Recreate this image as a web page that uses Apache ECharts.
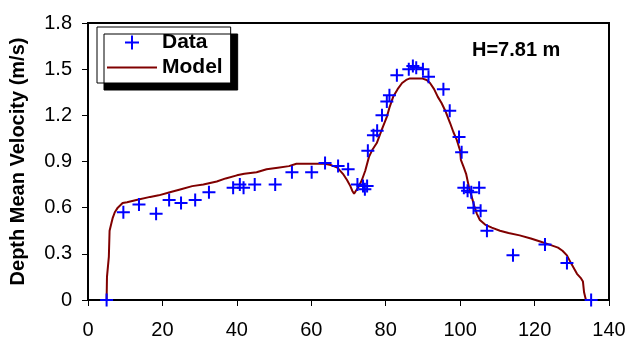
<!DOCTYPE html>
<html>
<head>
<meta charset="utf-8">
<script src="https://cdn.jsdelivr.net/npm/echarts@6/dist/echarts.min.js"></script>
<style>
  html, body { margin: 0; padding: 0; background: #fff; }
  #chart { width: 629px; height: 343px; }
</style>
</head>
<body>
<div id="chart"></div>
<script>
// measured points (distance, depth mean velocity)
const dataX = [5, 9.5, 13.7, 18.3, 21.8, 25, 28.8, 32.5, 39, 40.8, 41.8, 44.8, 50.3, 54.8, 60.1,
  63.7, 67.2, 69.9, 72.4, 73.9, 74.4, 75, 75.2, 76.7, 77.7, 79, 80.3, 81, 83, 86.2, 87.3, 88.2,
  90, 91.5, 95.5, 97.2, 99.7, 100.4, 101, 102, 103, 105.1, 103.6, 105.5, 107.2, 114.2, 122.8,
  128.7, 135.2];
const dataY = [0, 0.57, 0.62, 0.56, 0.65, 0.63, 0.65, 0.70, 0.73, 0.75, 0.73, 0.75, 0.75, 0.83, 0.83,
  0.89, 0.87, 0.85, 0.75, 0.74, 0.72, 0.74, 0.97, 1.07, 1.10, 1.20, 1.29, 1.33, 1.46, 1.50, 1.52, 1.51,
  1.50, 1.45, 1.37, 1.23, 1.06, 0.96, 0.73, 0.71, 0.70, 0.73, 0.60, 0.58, 0.45, 0.29, 0.36,
  0.24, 0];

// model profile
const modelX = [5.0, 5.1, 5.6, 5.8, 6.3, 6.6, 7.2, 8.0, 9.3, 10.5, 13, 16.7, 19, 22, 25, 28, 31,
  34.6, 37, 40, 42, 45.3, 48, 51, 54, 56, 60, 63.7, 65.5, 67, 68.5, 69.6, 70.5, 71, 71.5, 72,
  72.6, 73.6, 74.5, 75.5, 76.5, 77.6, 79, 80.3, 81, 82, 83.2, 84.4, 85.5, 86.5, 89.7, 91, 91.9,
  93, 94, 95, 96, 97.3, 98.2, 99.1, 100, 100.2, 101, 101.6, 102.4, 103, 103.8, 104.5, 105.3,
  106.7, 108.5, 110.7, 113, 116, 119, 121.5, 124, 126.3, 127.5, 128.7, 130, 131.4, 132.5, 133,
  133.3, 133.8];
const modelY = [0, 0.15, 0.28, 0.45, 0.50, 0.53, 0.57, 0.60, 0.63, 0.635, 0.65, 0.67, 0.68, 0.70,
  0.72, 0.74, 0.75, 0.77, 0.79, 0.81, 0.82, 0.83, 0.85, 0.86, 0.87, 0.885, 0.885, 0.885, 0.875,
  0.86, 0.82, 0.78, 0.74, 0.71, 0.69, 0.71, 0.73, 0.78, 0.84, 0.93, 0.98, 1.02, 1.11, 1.19, 1.25,
  1.32, 1.37, 1.41, 1.43, 1.44, 1.44, 1.43, 1.41, 1.37, 1.32, 1.28, 1.23, 1.15, 1.09, 1.04, 0.97,
  0.91, 0.86, 0.82, 0.73, 0.68, 0.61, 0.56, 0.52, 0.49, 0.47, 0.45, 0.435, 0.42, 0.40, 0.38, 0.36,
  0.34, 0.32, 0.29, 0.23, 0.17, 0.14, 0.12, 0.05, 0];

const xTicks = [0, 20, 40, 60, 80, 100, 120, 140];
const yTicks = ['0', '0.3', '0.6', '0.9', '1.2', '1.5', '1.8'];

const PLUS = 'path://M0,6L12,6M6,0L6,12';
const LINE_ICON = 'path://M0,0L50,0L50,2.2L0,2.2Z';
const FONT = 'Liberation Sans, Arial, sans-serif';

const chart = echarts.init(document.getElementById('chart'));
chart.setOption({
  animation: false,
  grid: {
    left: 88, right: 20, top: 23, bottom: 43,
    show: true, borderColor: '#000', borderWidth: 2
  },
  xAxis: {
    type: 'value',
    min: xTicks[0],
    max: xTicks[xTicks.length - 1],
    interval: 20,
    axisLine: { lineStyle: { color: '#000', width: 2 } },
    axisTick: { length: 6, lineStyle: { color: '#000', width: 1 } },
    axisLabel: { color: '#000', fontSize: 20, fontFamily: FONT, margin: 20 },
    splitLine: { show: false }
  },
  yAxis: {
    type: 'value',
    min: 0,
    max: 1.8,
    interval: 0.3,
    name: 'Depth Mean Velocity (m/s)',
    nameLocation: 'middle',
    nameGap: 60,
    nameTextStyle: { color: '#000', fontSize: 20, fontWeight: 'bold', fontFamily: FONT },
    axisLine: { lineStyle: { color: '#000', width: 2 } },
    axisTick: { length: 6, lineStyle: { color: '#000', width: 1 } },
    axisLabel: {
      color: '#000', fontSize: 20, fontFamily: FONT, margin: 16,
      formatter: (v) => yTicks[Math.round(v / 0.3)]
    },
    splitLine: { show: false }
  },
  legend: {
    orient: 'vertical',
    left: 97,
    top: 27,
    padding: [5, 8, 5, 10],
    itemWidth: 50,
    itemHeight: 14,
    itemGap: 4,
    backgroundColor: '#fff',
    borderColor: '#000',
    borderWidth: 1,
    shadowColor: '#000',
    shadowBlur: 0,
    shadowOffsetX: 7,
    shadowOffsetY: 7,
    textStyle: { color: '#000', fontSize: 21, fontWeight: 'bold', fontFamily: FONT },
    data: [
      { name: 'Data', icon: PLUS, itemStyle: { color: 'none', borderColor: '#0000ff', borderWidth: 2 } },
      { name: 'Model', icon: LINE_ICON, itemStyle: { color: '#800000', borderWidth: 0 } }
    ]
  },
  graphic: [{
    type: 'text',
    left: 472,
    top: 40,
    style: { text: 'H=7.81 m', fill: '#000', font: 'bold 20px ' + FONT }
  }],
  series: [
    {
      name: 'Model',
      type: 'line',
      symbol: 'none',
      data: modelX.map((x, i) => [x, modelY[i]]),
      lineStyle: { color: '#800000', width: 2 },
      itemStyle: { color: '#800000' },
      z: 2
    },
    {
      name: 'Data',
      type: 'scatter',
      symbol: PLUS,
      symbolSize: 13,
      data: dataX.map((x, i) => [x, dataY[i]]),
      itemStyle: { color: 'none', borderColor: '#0000ff', borderWidth: 2, opacity: 1 },
      z: 3
    }
  ]
});
</script>
</body>
</html>
